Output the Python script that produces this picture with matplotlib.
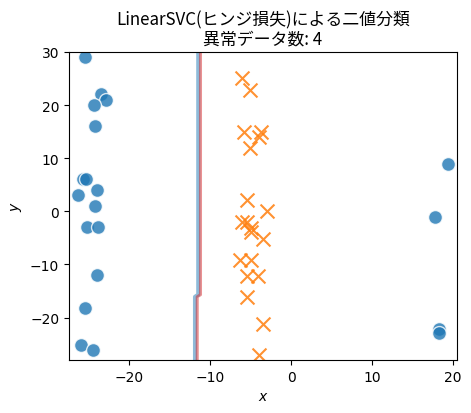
import numpy as np
import matplotlib

matplotlib.use('Agg')
import matplotlib.pyplot as plt

plt.rcParams['font.family'] = ['DejaVu Sans', 'Noto Sans CJK JP']

# クラス0 (青丸)
x0 = [-25.4, -23.4, -22.8, -24.3, -24.2, -25.7, -25.3, -26.3, -24.0, -24.2,
      -25.2, -23.8, -23.9, -25.4, -25.9, -24.4,
      19.3, 17.8, 18.3, 18.2]
y0 = [29.0, 22.0, 21.0, 20.0, 16.0, 6.0, 6.0, 3.0, 4.0, 1.0,
      -3.0, -3.0, -12.0, -18.2, -25.1, -26.2,
      9.0, -1.0, -22.1, -23.0]

# クラス1 (オレンジのx)
x1 = [-6.1, -5.1, -5.8, -3.7, -4.0, -5.1, -5.4, -3.0,
      -6.1, -5.4, -5.0, -5.0, -3.5, -6.3, -5.0, -5.5, -4.1, -5.5, -3.5, -4.0]
y1 = [25.1, 22.9, 15.0, 15.0, 13.9, 12.0, 2.1, 0.0,
      -2.1, -2.1, -3.1, -3.9, -5.3, -9.2, -9.2, -12.1, -12.1, -16.1, -21.2, -27.0]

# 決定境界 (グリッドから読み取った折れ線)
bx = [-11.3, -11.3, -11.7, -11.7]
by = [30.0, -15.7, -16.1, -28.0]

n_anomaly = 4

fig = plt.figure(figsize=(4.71, 4.14), dpi=100)
ax = fig.add_axes([0.1465, 0.128, 0.8235, 0.744])

ax.plot(np.array(bx) - 0.15, by, color='#1f77b4', lw=3, alpha=0.5)
ax.plot(np.array(bx) + 0.12, by, color='#d62728', lw=2.2, alpha=0.5)

ax.scatter(x0, y0, s=100, c='#1f77b4', alpha=0.8, edgecolors='white', linewidths=1)
ax.scatter(x1, y1, s=100, c='#ff7f0e', marker='x', linewidths=1.5, alpha=0.85)

ax.set_xlim(-27.4, 20.45)
ax.set_ylim(-28, 30)
ax.set_xticks([-20, -10, 0, 10, 20])
ax.set_yticks([-20, -10, 0, 10, 20, 30])
ax.set_xlabel('$x$')
ax.set_ylabel('$y$')
ax.set_title(f'LinearSVC(ヒンジ損失)による二値分類\n異常データ数: {n_anomaly}',
             fontsize=12.2, family=['Noto Sans CJK JP', 'DejaVu Sans'], linespacing=1.1)

plt.savefig('out.png', dpi=100)
